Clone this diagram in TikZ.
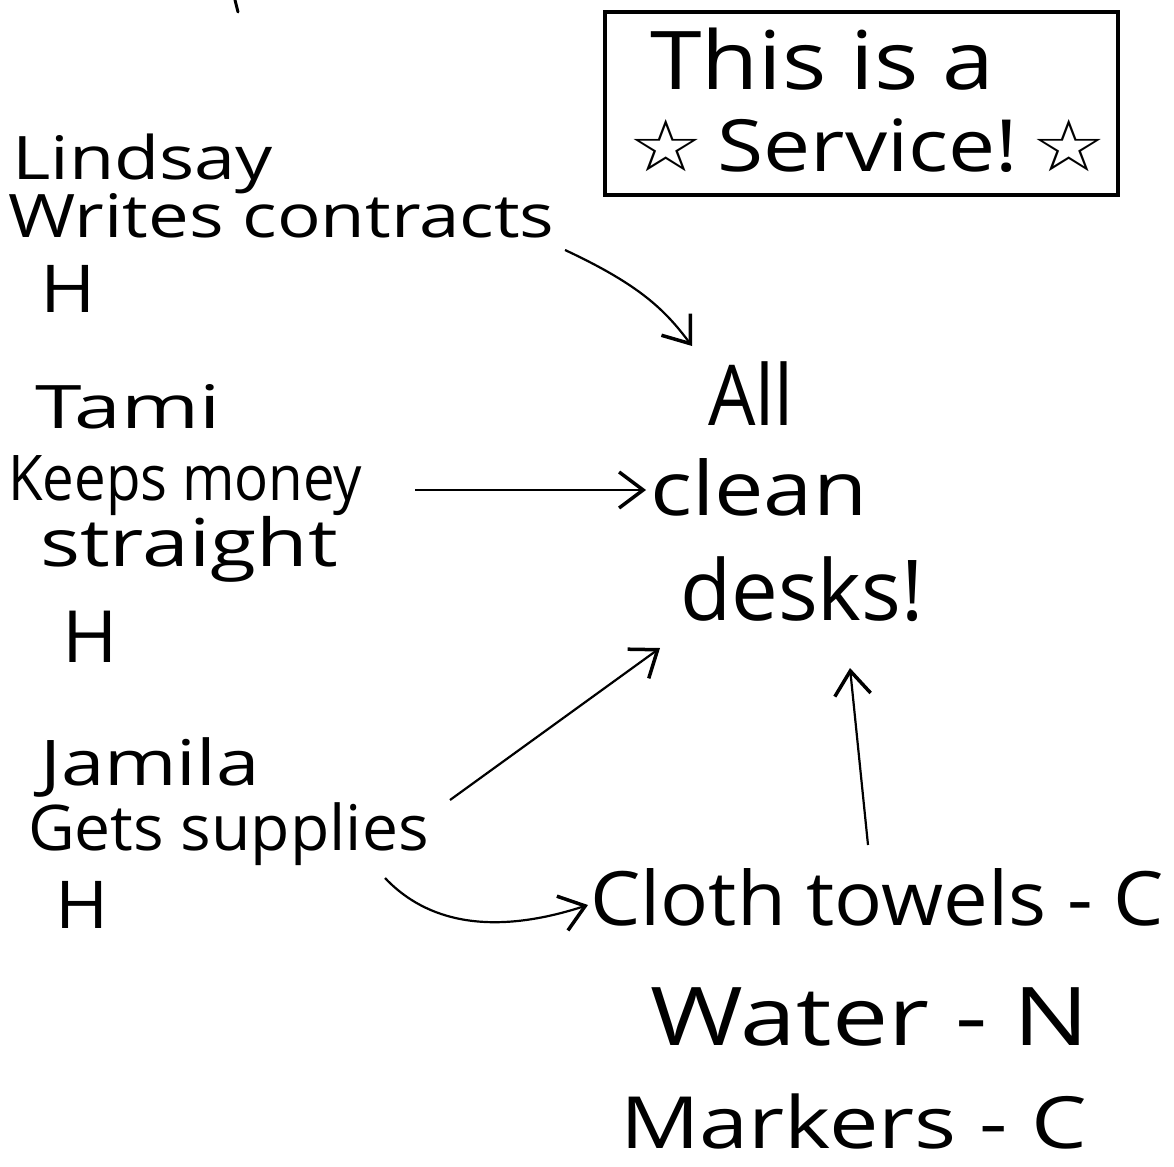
\documentclass[tikz,border=0pt]{standalone}
\usepackage{fontspec}
\usepackage{graphicx}
\setmainfont{Open Sans}
\newfontfamily\symfont{DejaVu Sans}
\newcommand\hw[3]{\scalebox{#1}[#2]{#3}}
\usetikzlibrary{arrows.meta}
\begin{document}
\begin{tikzpicture}[x=1pt,y=-1pt,
  lbl/.style={anchor=base west,inner sep=0pt,font=\fontsize{60}{72}\selectfont},
  arr/.style={line width=2.2pt,-{Straight Barb[length=24pt,width=36pt,line width=3.5pt]}},
  frame/.style={draw,line width=3.5pt,inner sep=0pt}]
\useasboundingbox (0,0) rectangle (1174,1166);
\fill[white] (0,0) rectangle (1174,1166);
% stray stroke at the top
\draw[line width=3pt,line cap=round] (235,0) -- (238,12);
% service box
\node[frame,minimum width=513pt,minimum height=183pt] (box) at (861.5,103.5) {};
\node[lbl] (this) at (650,90) {\hw{1.55}{1.35}{This is a}};
\node[lbl] (service) at (628,172) {\hw{1.4}{1.2}{{\symfont ☆}\,Service!\,{\symfont ☆}}};
% left column
\node[lbl] (lindsay) at (12,180) {\hw{1.23}{1}{Lindsay}};
\node[lbl] (writes) at (8,237) {\hw{1.21}{1}{Writes contracts}};
\node[lbl] (h1) at (40,312) {\hw{1.25}{1.1}{H}};
\node[lbl] (tami) at (35,428) {\hw{1.4}{1}{Tami}};
\node[lbl] (keeps) at (8,500) {\hw{0.94}{1.05}{Keeps money}};
\node[lbl] (straight) at (40,566) {\hw{1.4}{1.1}{straight}};
\node[lbl] (h2) at (62,662) {\hw{1.25}{1.2}{H}};
\node[lbl] (jamila) at (40,785) {\hw{1.3}{1.05}{Jamila}};
\node[lbl] (gets) at (28,850) {\hw{1.07}{1.05}{Gets supplies}};
\node[lbl] (h3) at (55,928) {\hw{1.2}{1.1}{H}};
% centre
\node[lbl] (all) at (708,425) {\hw{1.25}{1.4}{All}};
\node[lbl] (clean) at (650,515) {\hw{1.47}{1.25}{clean}};
\node[lbl] (desks) at (680,620) {\hw{1.39}{1.4}{desks!}};
% supplies list
\node[lbl] (cloth) at (590,925) {\hw{1.33}{1.25}{Cloth towels - C}};
\node[lbl] (water) at (650,1045) {\hw{1.67}{1.35}{Water - N}};
\node[lbl] (markers) at (620,1148) {\hw{1.47}{1.2}{Markers - C}};
% arrow end points
\coordinate (a1s) at (565,250);
\coordinate (a1e) at (692,346);
\coordinate (a2s) at (415,490);
\coordinate (a2e) at (646,490);
\coordinate (a3s) at (450,800);
\coordinate (a3e) at (660,648);
\coordinate (a4s) at (868,845);
\coordinate (a4e) at (850,668);
\coordinate (a5s) at (385,878);
\coordinate (a5e) at (588,905);
% connectors
\draw[arr] (a1s) .. controls (640,285) and (665,310) .. (a1e);
\draw[arr] (a2s) -- (a2e);
\draw[arr] (a3s) -- (a3e);
\draw[arr] (a4s) -- (a4e);
\draw[arr] (a5s) .. controls (420,915) and (480,940) .. (a5e);
\end{tikzpicture}
\end{document}
